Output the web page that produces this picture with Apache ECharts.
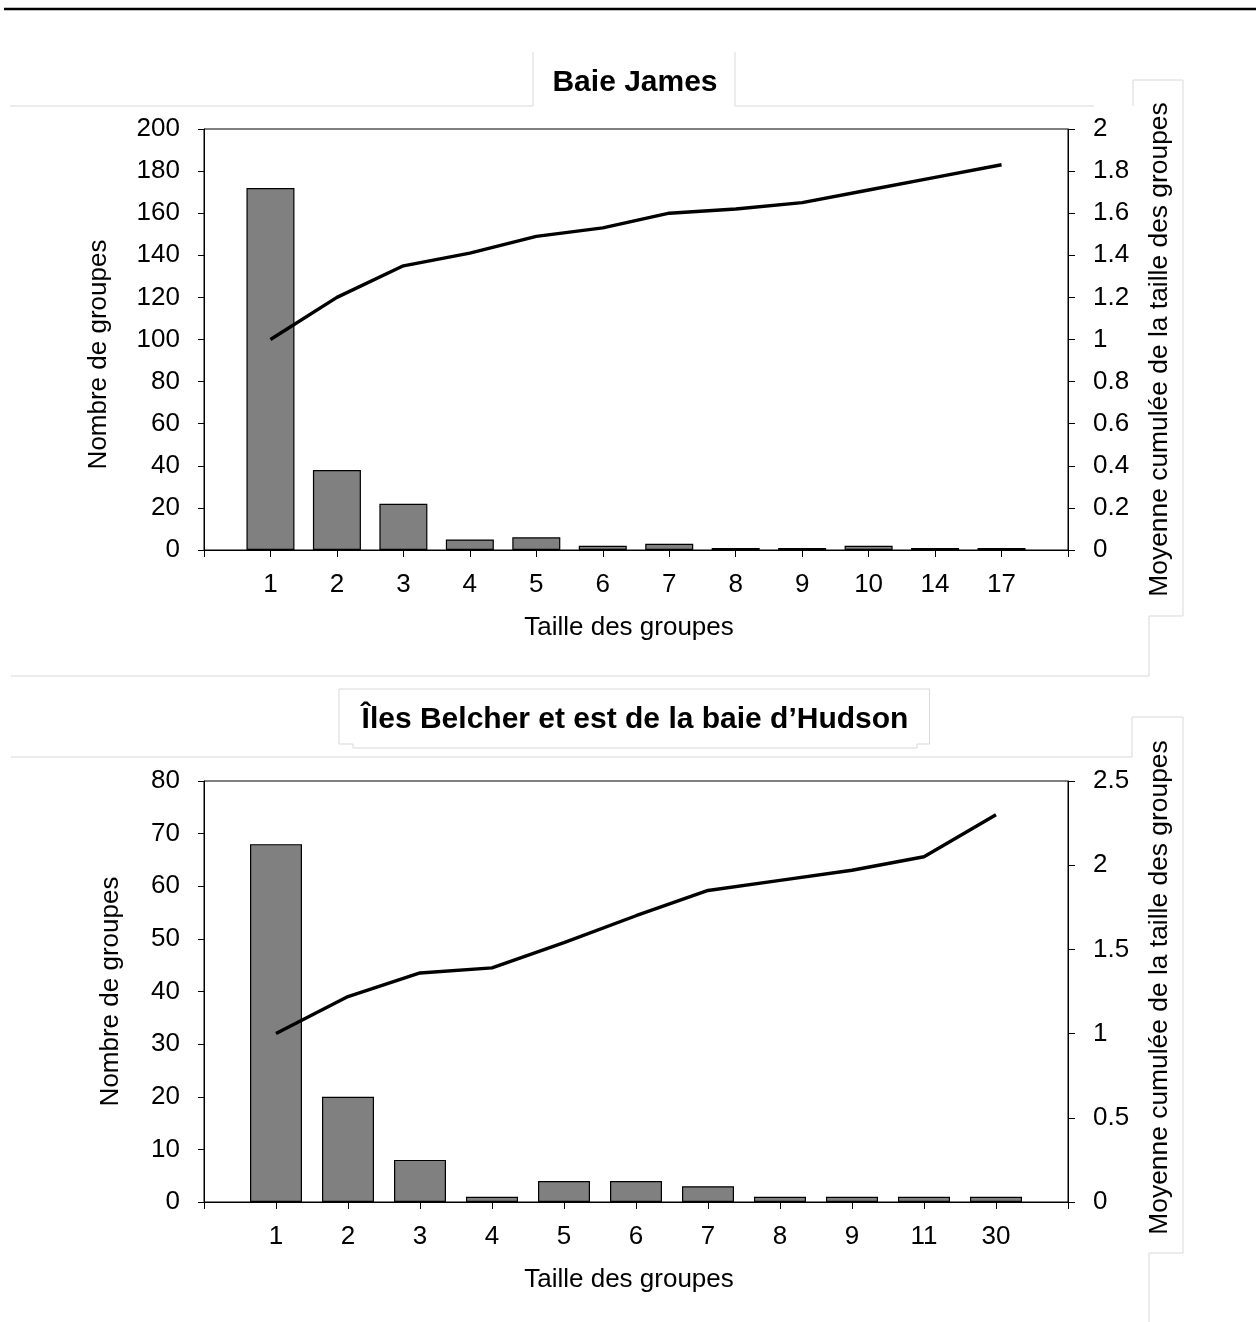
<!DOCTYPE html>
<html>
<head>
<meta charset="utf-8">
<script src="https://cdn.jsdelivr.net/npm/echarts@6/dist/echarts.min.js"></script>
<style>
html,body{margin:0;padding:0;background:#fff;}
#c{width:1256px;height:1322px;}
</style>
</head>
<body>
<div id="c"></div>
<script>
// ---- Data ----
const titleJB = 'Baie James';
const catsJB = ['1','2','3','4','5','6','7','8','9','10','14','17'];
const countsJB = [172, 38, 22, 5, 6, 2, 3, 1, 1, 2, 1, 1];
const meanJB = [1.0, 1.2, 1.35, 1.41, 1.49, 1.53, 1.60, 1.62, 1.65, 1.71, 1.77, 1.83];

const titleBH = 'Îles Belcher et est de la baie d’Hudson';
const catsBH = ['1','2','3','4','5','6','7','8','9','11','30'];
const countsBH = [68, 20, 8, 1, 4, 4, 3, 1, 1, 1, 1];
const meanBH = [1.0, 1.22, 1.36, 1.39, 1.54, 1.70, 1.85, 1.91, 1.97, 2.05, 2.30];

const xName = 'Taille des groupes';
const yLeftName = 'Nombre de groupes';
const yRightName = 'Moyenne cumulée de la taille des groupes';

// ---- Helpers ----
const FONT = '"Liberation Sans", Arial, Helvetica, sans-serif';
const pairs = (arr) => arr.map((v, i) => [i + 1, v]);

function xAxisFor(gridIndex, cats) {
  return {
    type: 'value', gridIndex: gridIndex,
    min: 0, max: cats.length + 1, interval: 1,
    name: xName, nameLocation: 'middle', nameGap: 65,
    nameTextStyle: {fontFamily: FONT, fontSize: 26, color: '#000', padding: [0, 14, 0, 0]},
    axisLine: {show: true, lineStyle: {color: '#000', width: 1}},
    axisTick: {show: true, inside: false, length: 7, lineStyle: {color: '#000'}},
    axisLabel: {
      fontFamily: FONT, fontSize: 26, color: '#000', margin: 22,
      formatter: (v) => (cats[Math.round(v) - 1] !== undefined ? cats[Math.round(v) - 1] : '')
    },
    splitLine: {show: false}
  };
}
function yLeft(gridIndex, max, interval, nameGap, pad) {
  return {
    type: 'value', gridIndex: gridIndex, position: 'left',
    min: 0, max: max, interval: interval,
    name: yLeftName, nameLocation: 'middle', nameGap: nameGap, nameRotate: 90,
    nameTextStyle: {fontFamily: FONT, fontSize: 26, color: '#000', padding: pad},
    axisLine: {show: true, lineStyle: {color: '#000', width: 1}},
    axisTick: {show: true, inside: false, length: 6, lineStyle: {color: '#000'}},
    axisLabel: {fontFamily: FONT, fontSize: 26, color: '#000', margin: 24},
    splitLine: {show: false}
  };
}
function yRight(gridIndex, max, interval, pad) {
  return {
    type: 'value', gridIndex: gridIndex, position: 'right',
    min: 0, max: max, interval: interval,
    name: yRightName, nameLocation: 'middle', nameGap: 79, nameRotate: 90,
    nameTextStyle: {fontFamily: FONT, fontSize: 26.4, color: '#000', padding: pad},
    axisLine: {show: true, onZero: false, lineStyle: {color: '#000', width: 1}},
    axisTick: {show: true, inside: false, length: 7, lineStyle: {color: '#000'}},
    axisLabel: {fontFamily: FONT, fontSize: 26, color: '#000', margin: 25},
    splitLine: {show: false}
  };
}

const GREY = '#d9d9d9';
function pl(points, color, width) {
  return {type: 'polyline', silent: true, z: -10,
    shape: {points: points},
    style: {stroke: color || GREY, lineWidth: width || 1, fill: null}};
}

const option = {
  backgroundColor: '#fff',
  animation: false,
  title: [
    {text: titleJB, left: 630, top: 63, textAlign: 'center',
     textStyle: {fontFamily: FONT, fontSize: 30, fontWeight: 'bold', color: '#000'}},
    {text: titleBH, left: 630, top: 700, textAlign: 'center',
     textStyle: {fontFamily: FONT, fontSize: 30, fontWeight: 'bold', color: '#000'}}
  ],
  grid: [
    {left: 204, top: 129, width: 864, height: 421, show: true, borderColor: '#000', borderWidth: 1, backgroundColor: 'transparent'},
    {left: 204, top: 781, width: 864, height: 421, show: true, borderColor: '#000', borderWidth: 1, backgroundColor: 'transparent'}
  ],
  xAxis: [xAxisFor(0, catsJB), xAxisFor(1, catsBH)],
  yAxis: [
    yLeft(0, 200, 20, 92, [0, 30, 0, 0]), yRight(0, 2, 0.2, [0, 20, 0, 0]),
    yLeft(1, 80, 10, 80, [0, 0, 0, 0]), yRight(1, 2.5, 0.5, [0, 0, 0, 8])
  ],
  series: [
    {type: 'bar', xAxisIndex: 0, yAxisIndex: 0, data: pairs(countsJB), barWidth: 48,
     itemStyle: {color: '#808080', borderColor: '#000', borderWidth: 1.2}},
    {type: 'line', xAxisIndex: 0, yAxisIndex: 1, data: pairs(meanJB), showSymbol: false, symbol: 'none',
     lineStyle: {color: '#000', width: 3.4}, z: 3},
    {type: 'bar', xAxisIndex: 1, yAxisIndex: 2, data: pairs(countsBH), barWidth: 52,
     itemStyle: {color: '#808080', borderColor: '#000', borderWidth: 1.2}},
    {type: 'line', xAxisIndex: 1, yAxisIndex: 3, data: pairs(meanBH), showSymbol: false, symbol: 'none',
     lineStyle: {color: '#000', width: 3.4}, z: 3}
  ],
  graphic: [
    pl([[4, 9], [1256, 9]], '#000', 2.5),
    // chart 1 frame remnants
    pl([[10, 106], [533, 106], [533, 52]]),
    pl([[735, 52], [735, 106], [1094, 106]]),
    pl([[1133, 106], [1133, 80], [1183, 80], [1183, 616], [1149, 616], [1149, 676], [11, 676]]),
    // chart 2 title box
    pl([[339, 744], [339, 689], [929.5, 689], [929.5, 744], [917, 744], [917, 748], [353, 748], [353, 744], [339, 744]]),
    pl([[11, 757], [1132, 757], [1132, 717], [1183, 717], [1183, 1253], [1149, 1253], [1149, 1322]])
  ]
};

const chart = echarts.init(document.getElementById('c'));
chart.setOption(option);
</script>
</body>
</html>
